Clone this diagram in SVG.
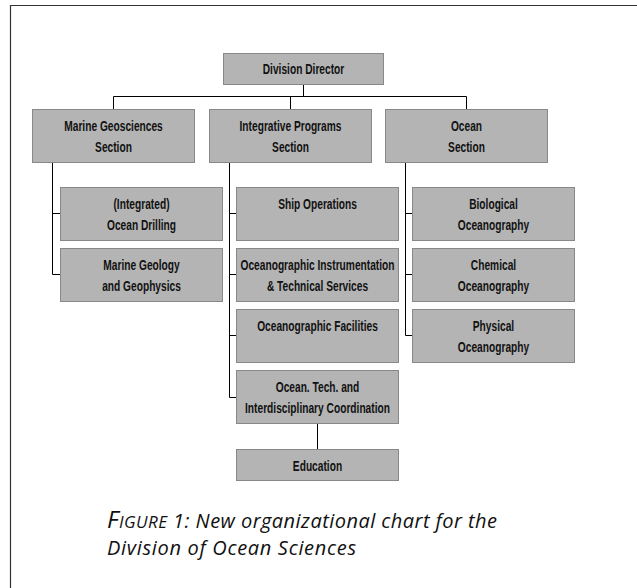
<svg xmlns="http://www.w3.org/2000/svg" width="637" height="588" viewBox="0 0 637 588">
<style>
.box{fill:#b4b4b4;stroke:#888888;stroke-width:1}
.lbl text{font-family:"Liberation Sans",Arial,sans-serif;font-weight:bold;font-size:15px;fill:#111;text-anchor:middle}
.conn{fill:none;stroke:#000;stroke-width:1}
.cap{font-family:"Open Sans","Noto Sans",sans-serif;font-style:italic;font-size:20px;fill:#111}
</style>
<rect x="0" y="0" width="637" height="588" fill="#fff"/>
<path d="M10.5 588 V5.5 H637" fill="none" stroke="#333" stroke-width="1.2"/>
<g id="connectors" class="conn">
<path d="M303.5 84 V96.5 M113.5 109 V96.5 H466.5 V109 M290.5 96.5 V109"/>
<path d="M52.5 162 V274.5 H60 M52.5 213.5 H60"/>
<path d="M229.5 162 V397.5 H236 M229.5 213.5 H236 M229.5 274.5 H236 M229.5 335.5 H236"/>
<path d="M405.5 162 V335.5 H412 M405.5 213.5 H412 M405.5 274.5 H412"/>
<path d="M317.5 424 V449"/>
</g>
<g id="director"><rect class="box" x="223.5" y="53.5" width="160" height="31"/><g class="lbl" transform="translate(303.5 0) scale(0.68 1)"><text x="0" y="74">Division Director</text></g></g>
<g id="marine"><rect class="box" x="32.5" y="109.5" width="162" height="53"/><g class="lbl" transform="translate(113.5 0) scale(0.68 1)"><text x="0" y="131">Marine Geosciences</text><text x="0" y="152">Section</text></g></g>
<g id="integrative"><rect class="box" x="209.5" y="109.5" width="162" height="53"/><g class="lbl" transform="translate(290.5 0) scale(0.68 1)"><text x="0" y="131">Integrative Programs</text><text x="0" y="152">Section</text></g></g>
<g id="ocean"><rect class="box" x="385.5" y="109.5" width="162" height="53"/><g class="lbl" transform="translate(466.5 0) scale(0.68 1)"><text x="0" y="131">Ocean</text><text x="0" y="152">Section</text></g></g>
<g id="drilling"><rect class="box" x="60.5" y="187.5" width="162" height="53"/><g class="lbl" transform="translate(141.5 0) scale(0.68 1)"><text x="0" y="209.5">(Integrated)</text><text x="0" y="230">Ocean Drilling</text></g></g>
<g id="geology"><rect class="box" x="60.5" y="248.5" width="162" height="53"/><g class="lbl" transform="translate(141.5 0) scale(0.68 1)"><text x="0" y="270.5">Marine Geology</text><text x="0" y="291">and Geophysics</text></g></g>
<g id="ship"><rect class="box" x="236.5" y="187.5" width="162" height="53"/><g class="lbl" transform="translate(317.5 0) scale(0.68 1)"><text x="0" y="209.5">Ship Operations</text></g></g>
<g id="instrumentation"><rect class="box" x="236.5" y="248.5" width="162" height="53"/><g class="lbl" transform="translate(317.5 0) scale(0.68 1)"><text x="0" y="270.5">Oceanographic Instrumentation</text><text x="0" y="291">&amp; Technical Services</text></g></g>
<g id="facilities"><rect class="box" x="236.5" y="309.5" width="162" height="53"/><g class="lbl" transform="translate(317.5 0) scale(0.68 1)"><text x="0" y="331">Oceanographic Facilities</text></g></g>
<g id="tech"><rect class="box" x="236.5" y="370.5" width="162" height="53"/><g class="lbl" transform="translate(317.5 0) scale(0.68 1)"><text x="0" y="392.5">Ocean. Tech. and</text><text x="0" y="413">Interdisciplinary Coordination</text></g></g>
<g id="education"><rect class="box" x="236.5" y="449.5" width="162" height="31"/><g class="lbl" transform="translate(317.5 0) scale(0.68 1)"><text x="0" y="471">Education</text></g></g>
<g id="biological"><rect class="box" x="412.5" y="187.5" width="162" height="53"/><g class="lbl" transform="translate(493.5 0) scale(0.68 1)"><text x="0" y="209.5">Biological</text><text x="0" y="230">Oceanography</text></g></g>
<g id="chemical"><rect class="box" x="412.5" y="248.5" width="162" height="53"/><g class="lbl" transform="translate(493.5 0) scale(0.68 1)"><text x="0" y="270.5">Chemical</text><text x="0" y="291">Oceanography</text></g></g>
<g id="physical"><rect class="box" x="412.5" y="309.5" width="162" height="53"/><g class="lbl" transform="translate(493.5 0) scale(0.68 1)"><text x="0" y="331.5">Physical</text><text x="0" y="352">Oceanography</text></g></g>
<g id="caption">
<text class="cap" x="107" y="528" textLength="390" lengthAdjust="spacing"><tspan font-size="24">F</tspan><tspan font-size="17">IGURE</tspan> 1: New organizational chart for the</text>
<text class="cap" x="107" y="555" textLength="249" lengthAdjust="spacing">Division of Ocean Sciences</text>
</g>
</svg>
